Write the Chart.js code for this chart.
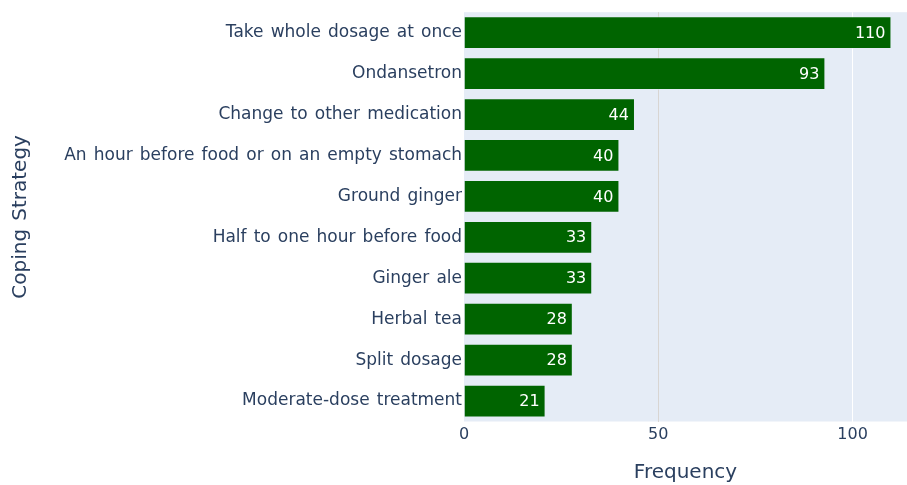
<!DOCTYPE html>
<html>
<head>
<meta charset="utf-8">
<script src="https://cdn.jsdelivr.net/npm/chart.js@4"></script>
<style>
html,body{margin:0;padding:0;background:#fff;}
#wrap{width:907px;height:485px;position:relative;}
</style>
</head>
<body>
<div id="wrap"><canvas id="c" width="907" height="485"></canvas></div>
<script>
const categories = [
  "Take whole dosage at once",
  "Ondansetron",
  "Change to other medication",
  "An hour before food or on an empty stomach",
  "Ground ginger",
  "Half to one hour before food",
  "Ginger ale",
  "Herbal tea",
  "Split dosage",
  "Moderate-dose treatment"
];
const frequencies = [110, 93, 44, 40, 40, 33, 33, 28, 28, 21];
const xTickValues = [0, 50, 100];
const xAxisTitle = "Frequency";
const yAxisTitle = "Coping Strategy";

const FONT = "'DejaVu Sans', Verdana, sans-serif";
const TEXT = "#2a3f5f";

const plotBg = {
  id: 'plotBg',
  beforeDraw(chart) {
    const {ctx, chartArea: a} = chart;
    ctx.save();
    ctx.fillStyle = '#E5ECF6';
    ctx.fillRect(a.left, a.top, a.right - a.left, a.bottom - a.top);
    ctx.restore();
    if ('wordSpacing' in ctx) ctx.wordSpacing = '1.7px';
  },
  afterDraw(chart) {
    if ('wordSpacing' in chart.ctx) chart.ctx.wordSpacing = '0px';
  }
};

const barLabels = {
  id: 'barLabels',
  afterDatasetsDraw(chart) {
    const {ctx} = chart;
    const meta = chart.getDatasetMeta(0);
    ctx.save();
    ctx.font = "16px " + FONT;
    ctx.fillStyle = '#ffffff';
    ctx.textAlign = 'right';
    ctx.textBaseline = 'middle';
    meta.data.forEach((bar, i) => {
      ctx.fillText(String(frequencies[i]), bar.x - 6, bar.y + 1);
    });
    ctx.restore();
  }
};

new Chart(document.getElementById('c'), {
  type: 'bar',
  data: {
    labels: categories,
    datasets: [{
      data: frequencies,
      backgroundColor: '#006400',
      borderColor: 'rgba(229,236,246,0.6)',
      borderWidth: 1,
      categoryPercentage: 1.0,
      barPercentage: 0.8
    }]
  },
  options: {
    indexAxis: 'y',
    responsive: false,
    animation: false,
    devicePixelRatio: 1,
    layout: {padding: {top: 12, right: 0, bottom: 0, left: 0}},
    plugins: {legend: {display: false}, tooltip: {enabled: false}},
    scales: {
      x: {
        type: 'linear',
        min: 0,
        max: 114,
        afterBuildTicks(scale) {
          scale.ticks = xTickValues.map(v => ({value: v}));
        },
        afterFit(scale) { scale.height = 63.5; },
        border: {display: false},
        grid: {
          drawTicks: false,
          lineWidth: 1,
          color(ctx) {
            const v = ctx.tick && ctx.tick.value;
            if (v === 50) return '#d8d5d2';
            if (v === 0) return 'rgba(0,0,0,0)';
            return '#ffffff';
          }
        },
        ticks: {
          padding: 4,
          color: TEXT,
          font: {family: FONT, size: 16}
        },
        title: {
          display: true,
          text: xAxisTitle,
          color: TEXT,
          font: {family: FONT, size: 20},
          padding: {top: 0, bottom: 0}
        }
      },
      y: {
        afterFit(scale) { scale.width = 464; },
        border: {display: false},
        grid: {display: false, drawTicks: false},
        ticks: {
          padding: 2,
          color: TEXT,
          font: {family: FONT, size: 17},
          autoSkip: false
        },
        title: {
          display: true,
          text: yAxisTitle,
          color: TEXT,
          font: {family: FONT, size: 20},
          padding: {top: 9, bottom: 0}
        }
      }
    }
  },
  plugins: [plotBg, barLabels]
});
</script>
</body>
</html>
